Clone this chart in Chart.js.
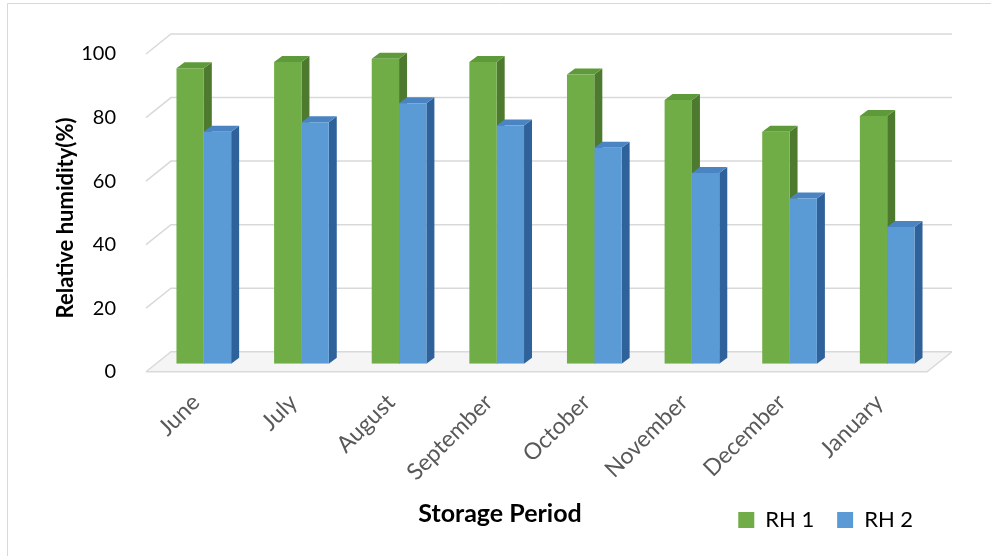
<!DOCTYPE html>
<html>
<head>
<meta charset="utf-8">
<title>Relative humidity</title>
<script src="https://cdn.jsdelivr.net/npm/chart.js@4.4.1/dist/chart.umd.min.js"></script>
<style>
    html, body { margin: 0; padding: 0; background: #fff; }
    #wrap { width: 991px; height: 556px; }
</style>
</head>
<body>
<div id="wrap">
    <canvas id="rhChart" width="991" height="556"></canvas>
</div>
<script>
let months = ["June", "July", "August", "September", "October", "November", "December", "January"];
let rh1 = [93, 95, 96, 95, 91, 83, 73, 78];
let rh2 = [73, 76, 82, 75, 68, 60, 52, 43];
let yTicks = [0, 20, 40, 60, 80, 100];

let frontColors = ["#70ad47", "#5b9bd5"];
let sideColors = ["#4d7a2e", "#2f629a"];
let topColors = ["#5f9a3a", "#4a84c2"];

// fake 3d: offsets from the bar plane
let DX = 8, DY = -6;
let FRONT = [-9, 8];
let BACK = [16, -12];

function poly(ctx, pts, color) {
    ctx.beginPath();
    ctx.moveTo(pts[0][0], pts[0][1]);
    for (let i = 1; i < pts.length; i++) ctx.lineTo(pts[i][0], pts[i][1]);
    ctx.closePath();
    ctx.fillStyle = color;
    ctx.fill();
}

let walls3d = {
    id: "walls3d",
    beforeDraw(chart) {
        let ctx = chart.ctx;
        ctx.save();
        ctx.strokeStyle = "#d9d9d9";
        ctx.lineWidth = 1;
        ctx.beginPath();
        ctx.moveTo(7.5, 556);
        ctx.lineTo(7.5, 3.5);
        ctx.lineTo(991, 3.5);
        ctx.stroke();
        ctx.restore();
    },
    beforeDatasetsDraw(chart) {
        let ctx = chart.ctx;
        let area = chart.chartArea;
        let y = chart.scales.y;
        let y0 = y.getPixelForValue(0);
        ctx.save();

        // floor
        poly(ctx, [
            [area.left + FRONT[0], y0 + FRONT[1]],
            [area.right + FRONT[0], y0 + FRONT[1]],
            [area.right + BACK[0], y0 + BACK[1]],
            [area.left + BACK[0], y0 + BACK[1]],
        ], "#f5f5f5");

        // back wall + left wall grid
        ctx.strokeStyle = "#d9d9d9";
        ctx.lineWidth = 1.5;
        yTicks.forEach((v) => {
            let p = y.getPixelForValue(v);
            ctx.beginPath();
            ctx.moveTo(area.left + FRONT[0], p + FRONT[1]);
            ctx.lineTo(area.left + BACK[0], p + BACK[1]);
            ctx.lineTo(area.right + BACK[0], p + BACK[1]);
            ctx.stroke();
        });
        ctx.beginPath();
        ctx.moveTo(area.left + FRONT[0], y0 + FRONT[1]);
        ctx.lineTo(area.right + FRONT[0], y0 + FRONT[1]);
        ctx.lineTo(area.right + BACK[0], y0 + BACK[1]);
        ctx.stroke();

        // side and top faces of every bar
        months.forEach((m, j) => {
            [0, 1].forEach((i) => {
                let bar = chart.getDatasetMeta(i).data[j];
                let p = bar.getProps(["x", "y", "base", "width"], true);
                let l = p.x - p.width / 2;
                let r = p.x + p.width / 2;
                poly(ctx, [[r, p.y], [r + DX, p.y + DY], [r + DX, p.base + DY], [r, p.base]], sideColors[i]);
                poly(ctx, [[l, p.y], [l + DX, p.y + DY], [r + DX, p.y + DY], [r, p.y]], topColors[i]);
            });
        });
        ctx.restore();
    },
    afterDraw(chart) {
        let ctx = chart.ctx;
        ctx.save();
        ctx.fillStyle = "#000";
        ctx.textAlign = "center";
        ctx.textBaseline = "middle";
        // x axis title sits on the same line as the legend
        ctx.font = "bold 25px Lato";
        ctx.fillText("Storage Period", 500, 514);
        // y axis title, centred on the wall
        ctx.font = "bold 22px Lato";
        ctx.translate(66, 218);
        ctx.rotate(-Math.PI / 2);
        ctx.fillText("Relative humidity(%)", 0, 0);
        ctx.restore();
    },
};

let ctx = document.querySelector("#rhChart").getContext("2d");

let myChart = new Chart(ctx, {
    type: "bar",
    data: {
        labels: months,
        datasets: [
            {
                label: "RH 1",
                data: rh1,
                backgroundColor: frontColors[0],
                borderWidth: 0,
            },
            {
                label: "RH 2",
                data: rh2,
                backgroundColor: frontColors[1],
                borderWidth: 0,
            },
        ],
    },
    options: {
        responsive: false,
        animation: false,
        layout: {
            padding: { left: 40, right: 55, top: 46, bottom: 15 },
        },
        datasets: {
            bar: { categoryPercentage: 0.56, barPercentage: 1.0 },
        },
        scales: {
            x: {
                grid: { display: false },
                border: { display: false },
                ticks: {
                    color: "#595959",
                    font: { family: "Lato", size: 23 },
                    minRotation: 45,
                    maxRotation: 45,
                    padding: 17,
                    labelOffset: -8,
                },
            },
            y: {
                min: 0,
                max: 100,
                grid: { display: false },
                border: { display: false },
                ticks: {
                    stepSize: 20,
                    color: "#000",
                    font: { family: "Lato", size: 20 },
                    padding: 31,
                    labelOffset: 8,
                },
                afterFit: (scale) => {
                    scale.width = 115;
                },
            },
        },
        plugins: {
            legend: {
                position: "bottom",
                align: "end",
                labels: {
                    color: "#000",
                    font: { family: "Lato", size: 22 },
                    boxWidth: 16,
                    boxHeight: 16,
                    padding: 6,
                    // small padding keeps the legend tight to the labels,
                    // the gap between entries comes from trailing spaces
                    generateLabels: (chart) =>
                        Chart.defaults.plugins.legend.labels.generateLabels(chart).map((item) => {
                            item.text = item.text + "\u00a0\u00a0\u00a0";
                            return item;
                        }),
                },
            },
            tooltip: { enabled: false },
        },
    },
    plugins: [walls3d],
});
</script>
</body>
</html>
